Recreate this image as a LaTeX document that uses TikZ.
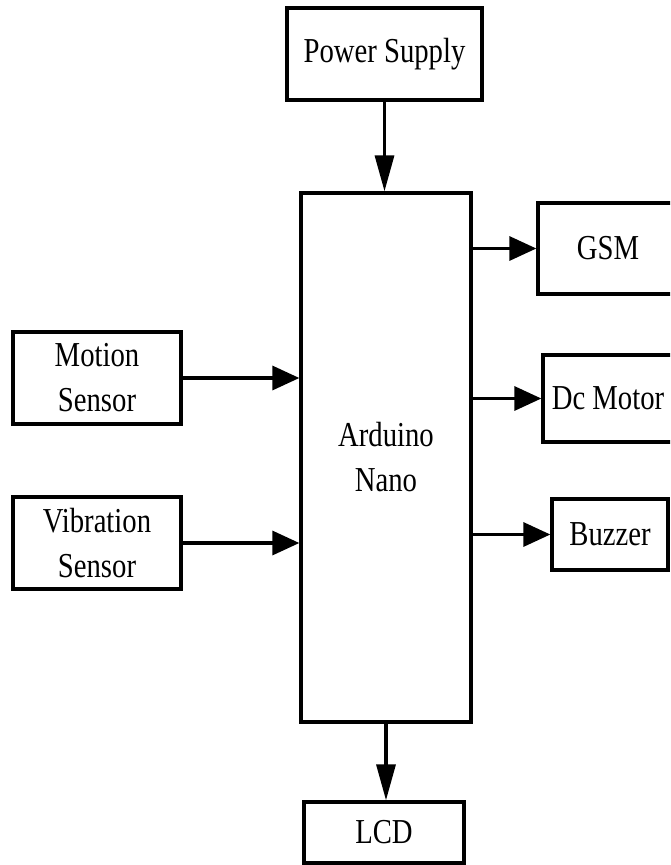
\documentclass[tikz,border=0pt]{standalone}
\usepackage{fontspec}
\setmainfont{Liberation Serif}[FakeStretch=0.82]
\usetikzlibrary{arrows.meta}
\begin{document}
\begin{tikzpicture}[x=1pt,y=-1pt,
  blk/.style={draw=black, line width=3.3pt, fill=white, inner sep=0pt, align=center,
    font=\fontsize{35}{45}\selectfont},
  hconn/.style={line width=3.3pt, -{Triangle[length=27pt,width=24pt]}},
  vconn/.style={line width=3.3pt, -{Triangle[length=36pt,width=19pt]}}]
\useasboundingbox (0,0) rectangle (670,865);
\begin{scope}
\clip (0,0) rectangle (670,865);
\node[blk, minimum width=195pt, minimum height=92pt] (ps) at (384.5,54) {Power Supply};
\node[blk, minimum width=170pt, minimum height=529pt] (ard) at (386,457.5) {Arduino\\Nano};
\node[blk, minimum width=140pt, minimum height=91pt] (gsm) at (608,248.5) {GSM};
\node[blk, minimum width=130pt, minimum height=87pt] (dc) at (608,398.5) {Dc Motor};
\node[blk, minimum width=116pt, minimum height=71pt] (bz) at (610,534.5) {Buzzer};
\node[blk, minimum width=168pt, minimum height=92pt] (ms) at (97,378) {Motion\\Sensor};
\node[blk, minimum width=168pt, minimum height=92pt] (vs) at (97,543) {Vibration\\Sensor};
\node[blk, minimum width=160pt, minimum height=61pt] (lcd) at (384,832.5) {LCD};
\end{scope}
\draw[vconn] (ps.south) -- (ps.south |- ard.north);
\draw[vconn] (ard.south) -- (ard.south |- lcd.north);
\draw[hconn] (ard.east |- gsm.west) -- (gsm.west);
\draw[hconn] (ard.east |- dc.west) -- (dc.west);
\draw[hconn] (ard.east |- bz.west) -- (bz.west);
\draw[hconn] (ms.east) -- (ms.east -| ard.west);
\draw[hconn] (vs.east) -- (vs.east -| ard.west);
\end{tikzpicture}
\end{document}
